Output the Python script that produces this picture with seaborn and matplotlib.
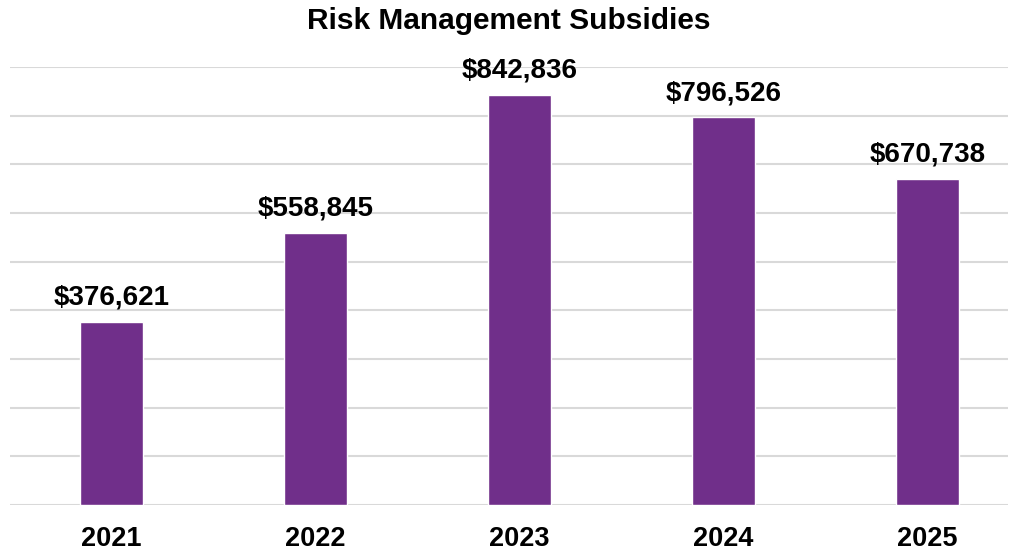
import matplotlib
matplotlib.use("Agg")
import matplotlib.pyplot as plt
import seaborn as sns
import pandas as pd

years = ["2021", "2022", "2023", "2024", "2025"]
subsidies = [376621, 558845, 842836, 796526, 670738]

bar_color = "#702F8A"
grid_color = "#D9D9D9"

sns.set_theme(style="white")
plt.rcParams["font.family"] = ["Liberation Sans", "DejaVu Sans"]

df = pd.DataFrame({"Year": years, "Subsidy": subsidies})

fig = plt.figure(figsize=(10.18, 5.52), dpi=100)
ax = fig.add_axes([10 / 1018, 1 - 505 / 552, 998 / 1018, (505 - 67) / 552])

sns.barplot(data=df, x="Year", y="Subsidy", color=bar_color, width=0.31,
            saturation=1, ax=ax, zorder=3)

ax.set_ylim(0, 900000)
ax.set_xlim(-0.4975, 4.395)
ax.set_yticks(range(0, 900001, 100000))
ax.yaxis.grid(True, color=grid_color, linewidth=1.5, zorder=0)
ax.set_axisbelow(True)
ax.tick_params(axis="y", left=False, labelleft=False)
ax.tick_params(axis="x", bottom=False, labelsize=19.5, pad=9, labelcolor="black")
for lbl in ax.get_xticklabels():
    lbl.set_fontweight("bold")
ax.set_xlabel("")
ax.set_ylabel("")
for s in ax.spines.values():
    s.set_visible(False)

for i, v in enumerate(subsidies):
    ax.annotate(f"${v:,.0f}", (i, v), xytext=(0, 8), textcoords="offset points",
                ha="center", va="bottom", fontsize=20, fontweight="bold",
                color="black")

fig.text(0.5, 1 - 21 / 552, "Risk Management Subsidies", ha="center", va="center",
         fontsize=21.5, fontweight="bold", color="black")

fig.savefig("out.png", dpi=100, facecolor="white")
